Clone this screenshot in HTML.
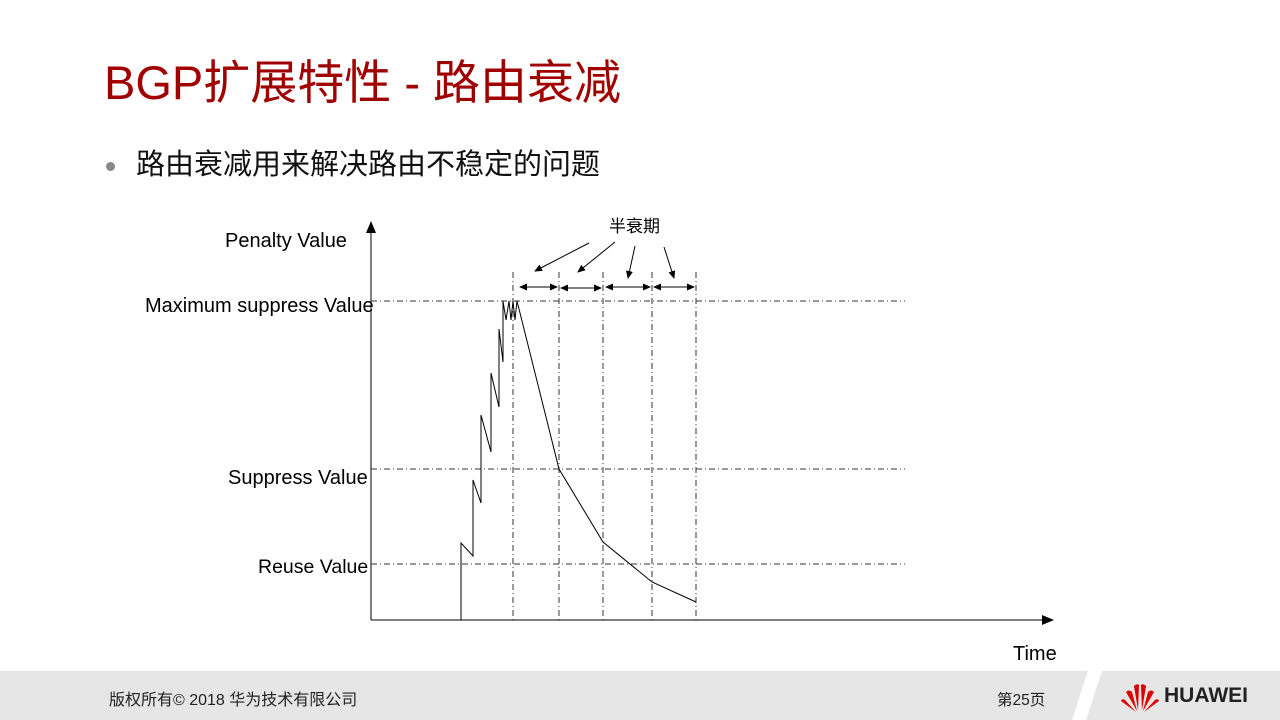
<!DOCTYPE html>
<html><head><meta charset="utf-8"><style>
body{margin:0;width:1280px;height:720px;position:relative;background:#fff;font-family:"Liberation Sans","Noto Sans CJK SC",sans-serif;overflow:hidden}
.t{position:absolute;white-space:nowrap}
</style></head><body>
<div class="t" style="left:104px;top:44px;font-size:47px;color:#a00000;font-family:'Liberation Sans','Noto Sans CJK SC',sans-serif">BGP扩展特性 - 路由衰减</div>
<div class="t" style="left:106px;top:162px;width:9px;height:9px;border-radius:50%;background:#888"></div>
<div class="t" style="left:136px;top:141px;font-size:29px;color:#111;font-family:'Liberation Sans','Noto Sans CJK SC',sans-serif">路由衰减用来解决路由不稳定的问题</div>
<svg width="1280" height="720" style="position:absolute;left:0;top:0">
<defs><marker id="a" markerWidth="8" markerHeight="8" refX="7" refY="4" orient="auto" markerUnits="userSpaceOnUse"><path d="M0,0.5 L8,4 L0,7.5z" fill="#000"/></marker>
<marker id="b" markerWidth="12" markerHeight="10" refX="11" refY="5" orient="auto" markerUnits="userSpaceOnUse"><path d="M0,0 L12,5 L0,10z" fill="#000"/></marker></defs>
<g stroke="#000" stroke-width="1" fill="none">
<line x1="371" y1="620" x2="371" y2="222" marker-end="url(#b)"/>
<line x1="371" y1="620" x2="1053" y2="620" marker-end="url(#b)"/>
<g stroke-dasharray="6,3,1,3" stroke="#333">
<line x1="371" y1="301" x2="905" y2="301"/><line x1="371" y1="469" x2="905" y2="469"/><line x1="371" y1="564" x2="905" y2="564"/>
<line x1="513" y1="272" x2="513" y2="620"/><line x1="559" y1="272" x2="559" y2="620"/><line x1="603" y1="272" x2="603" y2="620"/><line x1="652" y1="272" x2="652" y2="620"/><line x1="696" y1="272" x2="696" y2="620"/>
</g>
<polyline points="461,620 461,543 473,556 473,480 481,503 481,415 491,452 491,373 499,407 499,329 503,362 503,301 506,320 509,301 511,320 513,301 515,320 517,301 559,469 603,542 652,582 696,602"/>
<line x1="536" y1="287" x2="520" y2="287" marker-end="url(#a)"/><line x1="536" y1="287" x2="557" y2="287" marker-end="url(#a)"/>
<line x1="580" y1="288" x2="561" y2="288" marker-end="url(#a)"/><line x1="580" y1="288" x2="601" y2="288" marker-end="url(#a)"/>
<line x1="627" y1="287" x2="606" y2="287" marker-end="url(#a)"/><line x1="627" y1="287" x2="650" y2="287" marker-end="url(#a)"/>
<line x1="674" y1="287" x2="654" y2="287" marker-end="url(#a)"/><line x1="674" y1="287" x2="694" y2="287" marker-end="url(#a)"/>
<line x1="589" y1="243" x2="535" y2="271" marker-end="url(#a)"/>
<line x1="615" y1="242" x2="578" y2="272" marker-end="url(#a)"/>
<line x1="635" y1="246" x2="628" y2="278" marker-end="url(#a)"/>
<line x1="664" y1="247" x2="674" y2="278" marker-end="url(#a)"/>
</g>
</svg>
<div class="t" style="left:609px;top:212px;font-size:17px">半衰期</div>
<div class="t" style="left:225px;top:230px;font-size:20px">Penalty Value</div>
<div class="t" style="left:145px;top:295px;font-size:20px">Maximum suppress Value</div>
<div class="t" style="left:228px;top:467px;font-size:20px">Suppress Value</div>
<div class="t" style="left:258px;top:556px;font-size:19.5px">Reuse Value</div>
<div class="t" style="left:1013px;top:643px;font-size:20px">Time</div>
<div style="position:absolute;left:0;top:671px;width:1280px;height:49px;background:#e6e6e6"></div>
<div style="position:absolute;left:1080px;top:671px;width:14px;height:49px;background:#fff;transform:skewX(-18deg)"></div>
<div class="t" style="left:109px;top:686px;font-size:16px;color:#222">版权所有© 2018 华为技术有限公司</div>
<div class="t" style="left:997px;top:688px;font-size:15.5px;color:#222">第25页</div>
<svg width="40" height="32" style="position:absolute;left:1120px;top:682px" viewBox="-20 -28 40 32">
<g fill="#d00">
<path d="M-2,0 L-6,-24 Q-3,-27 -1,-25z"/><path d="M2,0 L6,-24 Q3,-27 1,-25z"/>
<path d="M-3,1 L-14,-18 Q-11,-21 -8,-18z"/><path d="M3,1 L14,-18 Q11,-21 8,-18z"/>
<path d="M-4,2 L-19,-9 Q-18,-12 -15,-10z"/><path d="M4,2 L19,-9 Q18,-12 15,-10z"/>
</g></svg>
<div class="t" style="left:1164px;top:684px;font-size:21px;font-weight:bold;color:#222">HUAWEI</div>
</body></html>
